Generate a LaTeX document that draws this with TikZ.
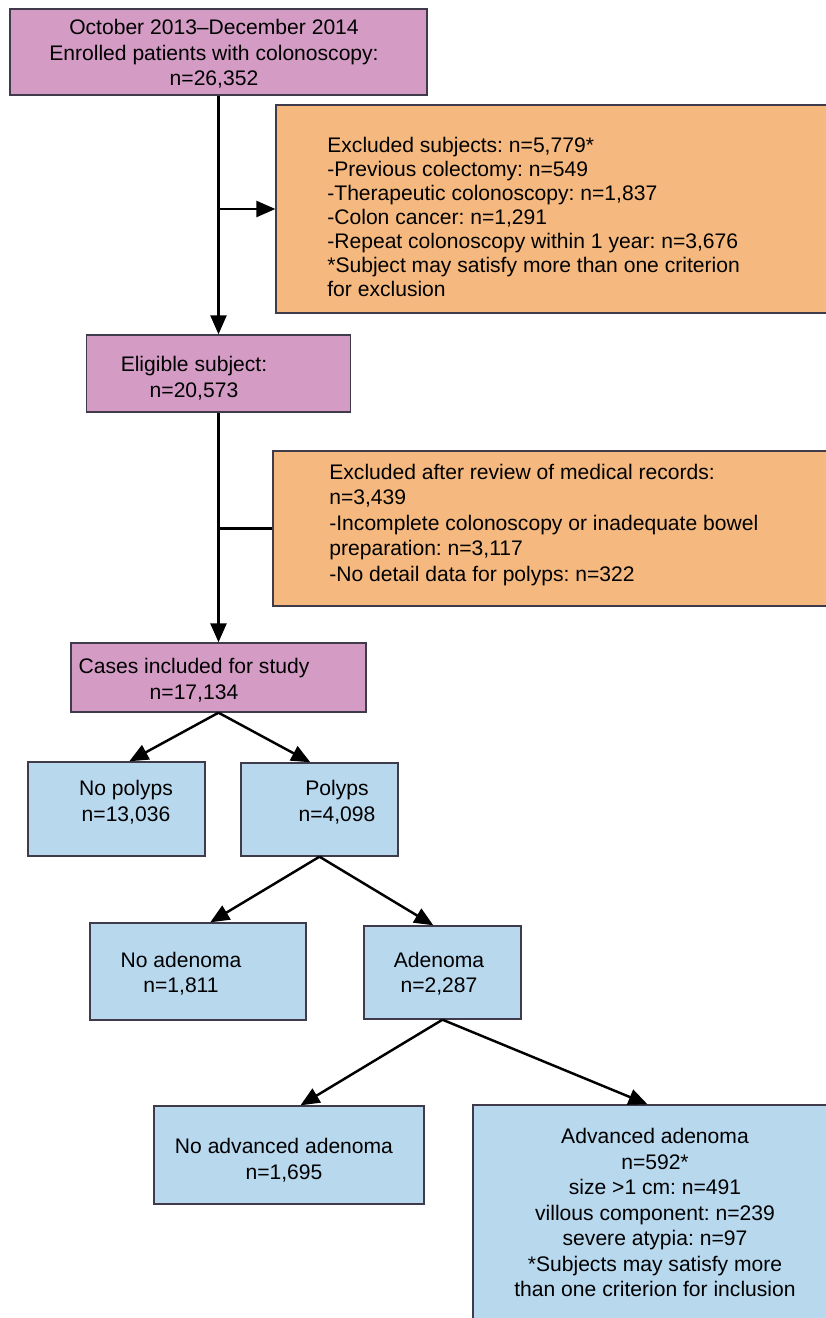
\documentclass[tikz,border=0pt]{standalone}
\usepackage{fontspec}
\setmainfont{Liberation Sans}
\usetikzlibrary{arrows.meta}
\definecolor{flowpink}{HTML}{D49CC5}
\definecolor{floworange}{HTML}{F5B97F}
\definecolor{flowblue}{HTML}{B8D8EE}
\definecolor{flowedge}{HTML}{3F3B4A}
\frenchspacing

\begin{document}
\begin{tikzpicture}[x=0.02cm,y=-0.02cm,
	box/.style={draw=flowedge,line width=0.8pt,inner sep=0pt},
	pbox/.style={box,fill=flowpink},
	obox/.style={box,fill=floworange},
	bbox/.style={box,fill=flowblue},
	txt/.style={font=\fontsize{12}{14.5}\selectfont,align=center,inner sep=0pt},
	ltxt/.style={txt,align=left,anchor=west},
	link/.style={line width=1.4pt},
	>={Triangle[length=0.38cm,width=0.32cm]}]
	  \useasboundingbox (0,0) rectangle (825,1318);
	  \fill[white] (0,0) rectangle (825,1318);

	  \draw (218.5,52)node[pbox,minimum width=8.34cm,minimum height=1.72cm](enrol){};
	  \draw (214,54)node[txt](enroltxt){October 2013–December 2014\\Enrolled patients with colonoscopy:\\n=26,352};

	  \draw (553,209)node[obox,minimum width=11.08cm,minimum height=4.16cm](excla){};
	  \draw (327,217)node[ltxt,font=\fontsize{12}{13.6}\selectfont](exclatxt){Excluded subjects: n=5,779*\\-Previous colectomy: n=549\\-Therapeutic colonoscopy: n=1,837\\-Colon cancer: n=1,291\\-Repeat colonoscopy within 1 year: n=3,676\\{}*Subject may satisfy more than one criterion\\for exclusion};

	  \draw (218.5,373.5)node[pbox,minimum width=5.28cm,minimum height=1.54cm](elig){};
	  \draw (194,378)node[txt](eligtxt){Eligible subject:\\n=20,573};

	  \draw (551.5,528.5)node[obox,minimum width=11.14cm,minimum height=3.10cm](exclb){};
	  \draw (329,525)node[ltxt](exclbtxt){Excluded after review of medical records:\\n=3,439\\-Incomplete colonoscopy or inadequate bowel\\preparation: n=3,117\\-No detail data for polyps: n=322};

	  \draw (218.5,677.5)node[pbox,minimum width=5.90cm,minimum height=1.38cm](cases){};
	  \draw (194,680)node[txt](casestxt){Cases included for study\\n=17,134};

	  \draw (116.5,809)node[bbox,minimum width=3.54cm,minimum height=1.88cm](nopol){};
	  \draw (126,802)node[txt](nopoltxt){No polyps\\n=13,036};

	  \draw (319.5,809.5)node[bbox,minimum width=3.14cm,minimum height=1.86cm](polyp){};
	  \draw (337,802)node[txt](polyptxt){Polyps\\n=4,098};

	  \draw (198,971.5)node[bbox,minimum width=4.32cm,minimum height=1.94cm](noaden){};
	  \draw (181,973.5)node[txt](noadentxt){No adenoma\\n=1,811};

	  \draw (442.5,972.5)node[bbox,minimum width=3.14cm,minimum height=1.86cm](aden){};
	  \draw (439,973.5)node[txt](adentxt){Adenoma\\n=2,287};

	  \draw (289,1155)node[bbox,minimum width=5.40cm,minimum height=1.96cm](noadv){};
	  \draw (284,1160)node[txt](noadvtxt){No advanced adenoma\\n=1,695};

	  \draw (651.5,1217.5)node[bbox,minimum width=7.14cm,minimum height=4.50cm](adv){};
	  \draw (655,1212.5)node[txt](advtxt){Advanced adenoma\\n=592*\\size >1 cm: n=491\\villous component: n=239\\severe atypia: n=97\\{}*Subjects may satisfy more\\than one criterion for inclusion};

	  \draw[->,link] (enrol.south)--(elig.north);
	  \draw[->,link] (enrol.south |- excla.west)--(excla.west);
	  \draw[->,link] (elig.south)--(cases.north);
	  \draw[link] (elig.south |- exclb.west)--(exclb.west);

	  \draw[->,link] (cases.south)--(nopol.75);
	  \draw[->,link] (cases.south)--(polyp.101);
	  \draw[->,link] (polyp.south)--(noaden.76);
	  \draw[->,link] (polyp.south)--(aden.101);
	  \draw[->,link] (aden.south)--(noadv.77);
	  \draw[->,link] (aden.south)--(adv.92);
	\end{tikzpicture}
\end{document}
